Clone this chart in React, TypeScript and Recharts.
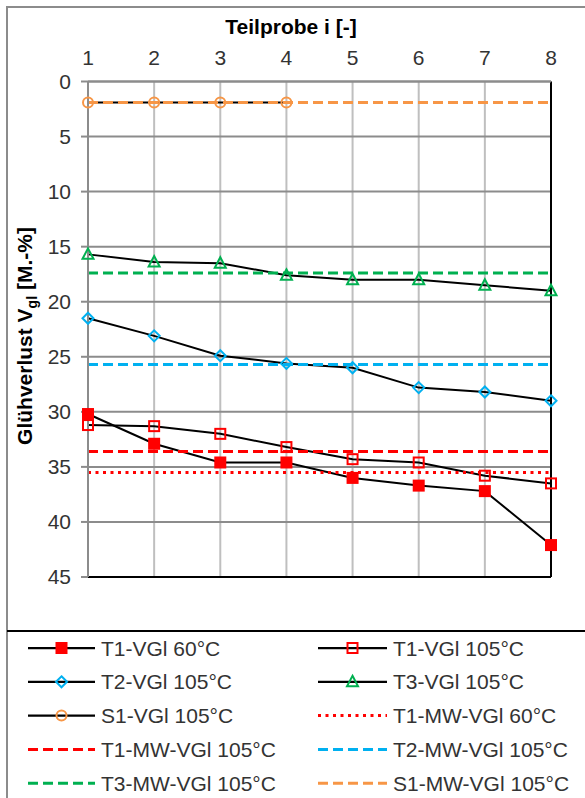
import React from "react";
import { CartesianGrid, Line, LineChart, ReferenceLine, XAxis, YAxis } from "recharts";

// Teilproben (x-Achse oben)
const teilprobe = [1, 2, 3, 4, 5, 6, 7, 8];

// Einzelwerte Glühverlust [M.-%]
const t1Vgl60 = [30.2, 32.9, 34.6, 34.6, 36.0, 36.7, 37.2, 42.1];
const t1Vgl105 = [31.2, 31.3, 32.0, 33.2, 34.3, 34.6, 35.8, 36.5];
const t2Vgl105 = [21.5, 23.1, 24.9, 25.6, 26.0, 27.8, 28.2, 29.0];
const t3Vgl105 = [15.7, 16.4, 16.5, 17.6, 18.0, 18.0, 18.5, 19.0];
const s1Vgl105 = [1.9, 1.9, 1.9, 1.9];

// Mittelwerte
const t1MwVgl60 = 35.5;
const t1MwVgl105 = 33.6;
const t2MwVgl105 = 25.7;
const t3MwVgl105 = 17.4;
const s1MwVgl105 = 1.9;

const yTicks = [0, 5, 10, 15, 20, 25, 30, 35, 40, 45];

const red = "#ff0000";
const blue = "#00b0f0";
const green = "#00b050";
const orange = "#f79646";
const gridDark = "#8c8c8c";
const gridLight = "#bfbfbf";
const textColor = "#333333";
const font = "'Liberation Sans', Arial, sans-serif";

const rows = teilprobe.map((i, k) => ({
  i,
  t1_60: t1Vgl60[k],
  t1_105: t1Vgl105[k],
  t2_105: t2Vgl105[k],
  t3_105: t3Vgl105[k],
  s1_105: k < s1Vgl105.length ? s1Vgl105[k] : null,
  mw_t1_60: t1MwVgl60,
  mw_t1_105: t1MwVgl105,
  mw_t2_105: t2MwVgl105,
  mw_t3_105: t3MwVgl105,
  mw_s1_105: s1MwVgl105,
}));

type MarkerKind = "filledSquare" | "openSquare" | "diamond" | "triangle" | "circle";

function marker(kind: MarkerKind, cx: number, cy: number, key?: string | number) {
  switch (kind) {
    case "filledSquare":
      return <rect key={key} x={cx - 6} y={cy - 6} width={12} height={12} fill={red} />;
    case "openSquare":
      return <rect key={key} x={cx - 5} y={cy - 5} width={10} height={10} fill="none" stroke={red} strokeWidth={2} />;
    case "diamond":
      return (
        <path key={key} d={`M${cx},${cy - 5.5}L${cx + 5.5},${cy}L${cx},${cy + 5.5}L${cx - 5.5},${cy}Z`} fill="none" stroke={blue} strokeWidth={2} />
      );
    case "triangle":
      return (
        <path key={key} d={`M${cx},${cy - 6}L${cx + 5.5},${cy + 4.5}L${cx - 5.5},${cy + 4.5}Z`} fill="none" stroke={green} strokeWidth={2} />
      );
    default:
      return <circle key={key} cx={cx} cy={cy} r={5} fill="none" stroke={orange} strokeWidth={2} />;
  }
}

function dotFor(kind: MarkerKind) {
  return (props: any) => {
    const { cx, cy, index } = props;
    if (typeof cx !== "number" || typeof cy !== "number" || props.value == null) return <g key={`e-${index}`} />;
    return marker(kind, cx, cy, `d-${index}`);
  };
}

const legendItems: { name: string; marker?: MarkerKind; stroke: string; dash?: string }[] = [
  { name: "T1-VGl 60°C", marker: "filledSquare", stroke: "#000" },
  { name: "T1-VGl 105°C", marker: "openSquare", stroke: "#000" },
  { name: "T2-VGl 105°C", marker: "diamond", stroke: "#000" },
  { name: "T3-VGl 105°C", marker: "triangle", stroke: "#000" },
  { name: "S1-VGl 105°C", marker: "circle", stroke: "#000" },
  { name: "T1-MW-VGl 60°C", stroke: red, dash: "3 4.5" },
  { name: "T1-MW-VGl 105°C", stroke: red, dash: "10 5" },
  { name: "T2-MW-VGl 105°C", stroke: blue, dash: "10 5" },
  { name: "T3-MW-VGl 105°C", stroke: green, dash: "10 5" },
  { name: "S1-MW-VGl 105°C", stroke: orange, dash: "10 5" },
];

function LegendBlock() {
  return (
    <svg width={585} height={166} style={{ position: "absolute", left: 0, top: 632 }}>
      {legendItems.map((it, idx) => {
        const col = idx % 2;
        const row = Math.floor(idx / 2);
        const x0 = col === 0 ? 28 : 318;
        const x1 = col === 0 ? 95 : 387;
        const cy = 16 + row * 33.8;
        return (
          <g key={it.name}>
            <line x1={x0} x2={x1} y1={cy} y2={cy} stroke={it.stroke} strokeWidth={it.dash ? 3 : 2.25} strokeDasharray={it.dash} />
            {it.marker && marker(it.marker, (x0 + x1) / 2, cy)}
            <text x={x1 + 6} y={cy + 7.5} fontSize={21} fill={textColor} fontFamily={font}>
              {it.name}
            </text>
          </g>
        );
      })}
    </svg>
  );
}

export default function App() {
  return (
    <div
      style={{
        position: "absolute",
        left: 0,
        top: 0,
        width: 585,
        height: 798,
        overflow: "hidden",
        background: "#fff",
        fontFamily: font,
      }}
    >
      <div style={{ position: "absolute", left: 6, top: 6, width: 640, height: 840, border: `2px solid ${gridDark}` }} />
      <div style={{ position: "absolute", left: 7, top: 630, width: 600, height: 2, background: "#000" }} />
      <div style={{ position: "absolute", left: 0, top: 0 }}>
        <LineChart width={585} height={798} data={rows} margin={{ top: 0, right: 34, bottom: 221, left: 0 }}>
          <CartesianGrid horizontal={false} stroke={gridLight} strokeWidth={2} />
          <CartesianGrid vertical={false} stroke={gridDark} strokeWidth={2} />
          <XAxis
            dataKey="i"
            type="number"
            orientation="top"
            domain={[1, 8]}
            ticks={teilprobe}
            interval={0}
            height={81.5}
            tickLine={false}
            tickSize={0}
            tickMargin={17}
            axisLine={{ stroke: gridDark, strokeWidth: 2 }}
            tick={{ fontSize: 21, fill: textColor }}
            label={{
              content: () => (
                <text x={291} y={34} textAnchor="middle" fontSize={21} fontWeight="bold" fill="#000" fontFamily={font}>
                  Teilprobe i [-]
                </text>
              ),
            }}
          />
          <YAxis
            type="number"
            reversed
            domain={[0, 45]}
            ticks={yTicks}
            interval={0}
            width={88}
            tickSize={7}
            tickMargin={10}
            tickLine={{ stroke: gridDark, strokeWidth: 2 }}
            axisLine={{ stroke: gridDark, strokeWidth: 2 }}
            tick={{ fontSize: 21, fill: textColor }}
            label={{
              content: () => (
                <text transform="translate(32,336) rotate(-90)" textAnchor="middle" fontSize={21} fontWeight="bold" fill="#000" fontFamily={font}>
                  Glühverlust V
                  <tspan fontSize={14} dy={5}>
                    gl
                  </tspan>
                  <tspan dy={-5}> [M.-%]</tspan>
                </text>
              ),
            }}
          />
          <ReferenceLine x={8} stroke="#000" strokeWidth={2} />
          <ReferenceLine y={45} stroke="#000" strokeWidth={2} />

          <Line dataKey="t1_60" stroke="#000" strokeWidth={2} dot={dotFor("filledSquare")} isAnimationActive={false} />
          <Line dataKey="t1_105" stroke="#000" strokeWidth={2} dot={dotFor("openSquare")} isAnimationActive={false} />
          <Line dataKey="t2_105" stroke="#000" strokeWidth={2} dot={dotFor("diamond")} isAnimationActive={false} />
          <Line dataKey="t3_105" stroke="#000" strokeWidth={2} dot={dotFor("triangle")} isAnimationActive={false} />
          <Line dataKey="s1_105" stroke="#000" strokeWidth={2} dot={dotFor("circle")} isAnimationActive={false} />

          <Line dataKey="mw_t1_60" stroke={red} strokeWidth={3} strokeDasharray="3 4.5" dot={false} isAnimationActive={false} />
          <Line dataKey="mw_t1_105" stroke={red} strokeWidth={3} strokeDasharray="10 5" dot={false} isAnimationActive={false} />
          <Line dataKey="mw_t2_105" stroke={blue} strokeWidth={3} strokeDasharray="10 5" dot={false} isAnimationActive={false} />
          <Line dataKey="mw_t3_105" stroke={green} strokeWidth={3} strokeDasharray="10 5" dot={false} isAnimationActive={false} />
          <Line dataKey="mw_s1_105" stroke={orange} strokeWidth={3} strokeDasharray="10 5" dot={false} isAnimationActive={false} />
        </LineChart>
      </div>
      <LegendBlock />
    </div>
  );
}
